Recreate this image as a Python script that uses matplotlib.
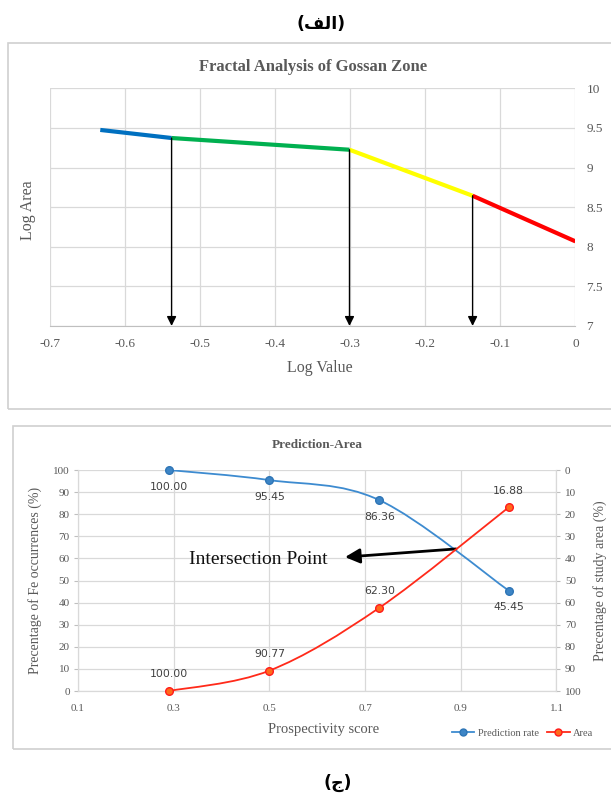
import matplotlib
matplotlib.use("Agg")
import matplotlib.pyplot as plt
from matplotlib.patches import Rectangle, PathPatch
from matplotlib.path import Path
from matplotlib.lines import Line2D

# fractal plot: break points of the four straight segments
log_value = [-0.633, -0.538, -0.301, -0.137, 0.0]
log_area = [9.475, 9.373, 9.225, 8.644, 8.068]
seg_colors = ["#0070C0", "#00B050", "#FFFF00", "#FF0000"]
x_ticks_top = [-0.7, -0.6, -0.5, -0.4, -0.3, -0.2, -0.1, 0]
y_ticks_top = [7, 7.5, 8, 8.5, 9, 9.5, 10]

# prediction-area plot
score = [0.29, 0.5, 0.73, 1.0]
prediction_rate = [100.00, 95.45, 86.36, 45.45]
area = [100.00, 90.77, 62.30, 16.88]
x_ticks_bot = [0.1, 0.3, 0.5, 0.7, 0.9, 1.1]

SERIF = "Liberation Serif"
GRID = "#d9d9d9"
TXT = "#595959"


def fmt(v):
    return "%g" % v


def smooth_path(xs, ys):
    # Excel-like smoothed line (Catmull-Rom as cubic Bezier)
    pts = list(zip(xs, ys))
    n = len(pts)
    verts = [pts[0]]
    codes = [Path.MOVETO]
    for i in range(n - 1):
        p0 = pts[i - 1] if i > 0 else pts[i]
        p1 = pts[i]
        p2 = pts[i + 1]
        p3 = pts[i + 2] if i + 2 < n else pts[i + 1]
        c1 = (p1[0] + (p2[0] - p0[0]) / 6, p1[1] + (p2[1] - p0[1]) / 6)
        c2 = (p2[0] - (p3[0] - p1[0]) / 6, p2[1] - (p3[1] - p1[1]) / 6)
        verts += [c1, c2, p2]
        codes += [Path.CURVE4] * 3
    return Path(verts, codes)


def main():
    fig = plt.figure(figsize=(6.11, 7.96), dpi=100)

    # panel frames
    fig.patches.append(Rectangle((0.013, 0.486), 1.0, 0.460, transform=fig.transFigure,
                                 fill=False, edgecolor="#d0d0d0", lw=1.2))
    fig.patches.append(Rectangle((0.0205, 0.059), 1.0, 0.406, transform=fig.transFigure,
                                 fill=False, edgecolor="#d0d0d0", lw=1.2))

    # Arabic captions (presentation forms, visual order)
    fig.text(0.525, 0.970, "(\uFED2\uFEDF\uFE8D)", ha="center", va="center",
             fontsize=12.5, fontweight="bold", family="DejaVu Sans")
    fig.text(0.553, 0.017, "(\uFE9D)", ha="center", va="center",
             fontsize=12.5, fontweight="bold", family="DejaVu Sans")

    # ---------- top: fractal analysis ----------
    ax1 = fig.add_axes([0.0818, 0.5905, 0.860, 0.2985])
    for i in range(len(seg_colors)):
        ax1.plot(log_value[i:i + 2], log_area[i:i + 2], color=seg_colors[i],
                 lw=3, solid_capstyle="butt", zorder=3)
    for xv, yv in zip(log_value[1:4], log_area[1:4]):
        ax1.annotate("", xy=(xv, 7.0), xytext=(xv, yv),
                     arrowprops=dict(arrowstyle="-|>", color="black", lw=1,
                                     mutation_scale=14, shrinkA=0, shrinkB=0),
                     zorder=4, annotation_clip=False)
    ax1.set_xlim(-0.7, 0)
    ax1.set_ylim(7, 10)
    ax1.set_xticks(x_ticks_top)
    ax1.set_xticklabels([fmt(v) for v in x_ticks_top])
    ax1.set_yticks(y_ticks_top)
    ax1.set_yticklabels([fmt(v) for v in y_ticks_top])
    ax1.yaxis.tick_right()
    ax1.tick_params(length=0, labelsize=9.5, labelcolor=TXT)
    ax1.tick_params(axis="x", pad=9)
    ax1.tick_params(axis="y", pad=8)
    for lab in ax1.get_xticklabels() + ax1.get_yticklabels():
        lab.set_family(SERIF)
    ax1.grid(True, color=GRID, lw=0.9)
    for s in ["top", "left", "right"]:
        ax1.spines[s].set_visible(False)
    ax1.spines["bottom"].set_color("#bfbfbf")
    ax1.set_axisbelow(True)
    fig.text(0.512, 0.916, "Fractal Analysis of Gossan Zone", ha="center", va="center",
             fontsize=12, fontweight="bold", family=SERIF, color=TXT)
    fig.text(0.524, 0.5377, "Log Value", ha="center", va="center",
             fontsize=11.5, family=SERIF, color=TXT)
    fig.text(0.046, 0.736, "Log Area", ha="center", va="center", rotation=90,
             fontsize=11.5, family=SERIF, color=TXT)

    # ---------- bottom: prediction-area ----------
    ax2 = fig.add_axes([0.1277, 0.1319, 0.7831, 0.2776])
    ax2r = ax2.twinx()
    blue = "#3d8bd0"
    red = "#ff2a1a"

    ax2.add_patch(PathPatch(smooth_path(score, prediction_rate), fill=False,
                            edgecolor=blue, lw=1.3, zorder=3))
    ax2.plot(score, prediction_rate, "o", ms=5.5, mfc="#3d85c6", mec="#2e75b6",
             mew=1, zorder=4, clip_on=False)
    ax2r.add_patch(PathPatch(smooth_path(score, area), fill=False,
                             edgecolor=red, lw=1.3, zorder=3))
    ax2r.plot(score, area, "o", ms=5.5, mfc="#ff6a1a", mec="#ff1a1a",
              mew=1, zorder=4, clip_on=False)

    for xv, yv in zip(score, prediction_rate):
        ax2.annotate("%.2f" % yv, (xv, yv), xytext=(0, -12), textcoords="offset points",
                     ha="center", va="center", fontsize=7.8, color="#404040")
    for xv, yv in zip(score, area):
        ax2r.annotate("%.2f" % yv, (xv, yv), xytext=(0, 12), textcoords="offset points",
                      ha="center", va="center", fontsize=7.8, color="#404040")

    ax2.set_xlim(0.1, 1.1)
    ax2.set_ylim(0, 100)
    ax2r.set_ylim(100, 0)
    ax2.set_xticks(x_ticks_bot)
    ax2.set_xticklabels(["%.1f" % v for v in x_ticks_bot])
    ax2.set_yticks(range(0, 101, 10))
    ax2r.set_yticks(range(0, 101, 10))
    for a in (ax2, ax2r):
        a.tick_params(axis="y", length=3, color="#bfbfbf", labelsize=8, labelcolor=TXT, pad=3)
        a.tick_params(axis="x", length=0, labelsize=8, labelcolor=TXT, pad=9)
        for lab in a.get_xticklabels() + a.get_yticklabels():
            lab.set_family(SERIF)
        for s in a.spines.values():
            s.set_color(GRID)
        a.spines["top"].set_visible(False)
    ax2.grid(True, color=GRID, lw=0.9)
    ax2.set_axisbelow(True)

    ax2.annotate("", xy=(0.658, 60.6), xytext=(0.89, 64.3),
                 arrowprops=dict(arrowstyle="-|>", color="black", lw=2,
                                 mutation_scale=22, shrinkA=0, shrinkB=0), zorder=5)
    ax2.text(0.476, 59.7, "Intersection Point", ha="center", va="center",
             fontsize=14, family=SERIF, color="#111111", zorder=5)

    fig.text(0.519, 0.441, "Prediction-Area", ha="center", va="center",
             fontsize=9.5, fontweight="bold", family=SERIF, color=TXT)
    fig.text(0.529, 0.083, "Prospectivity score", ha="center", va="center",
             fontsize=10.5, family=SERIF, color=TXT)
    fig.text(0.058, 0.271, "Precentage of Fe occurrences (%)", ha="center", va="center",
             rotation=90, fontsize=10, family=SERIF, color=TXT)
    fig.text(0.982, 0.271, "Precentage of study area (%)", ha="center", va="center",
             rotation=90, fontsize=10, family=SERIF, color=TXT)

    handles = [Line2D([], [], color=blue, marker="o", ms=5, mfc="#3d85c6", mec="#2e75b6", lw=1.3),
               Line2D([], [], color=red, marker="o", ms=5, mfc="#ff6a1a", mec="#ff1a1a", lw=1.3)]
    leg = fig.legend(handles, ["Prediction rate", "Area"], loc="center",
                     bbox_to_anchor=(0.855, 0.079), ncol=2, frameon=False,
                     handlelength=2.2, columnspacing=0.8, handletextpad=0.3,
                     prop={"family": SERIF, "size": 7.5})
    for t in leg.get_texts():
        t.set_color(TXT)

    fig.savefig("out.png", dpi=100)


if __name__ == "__main__":
    main()
